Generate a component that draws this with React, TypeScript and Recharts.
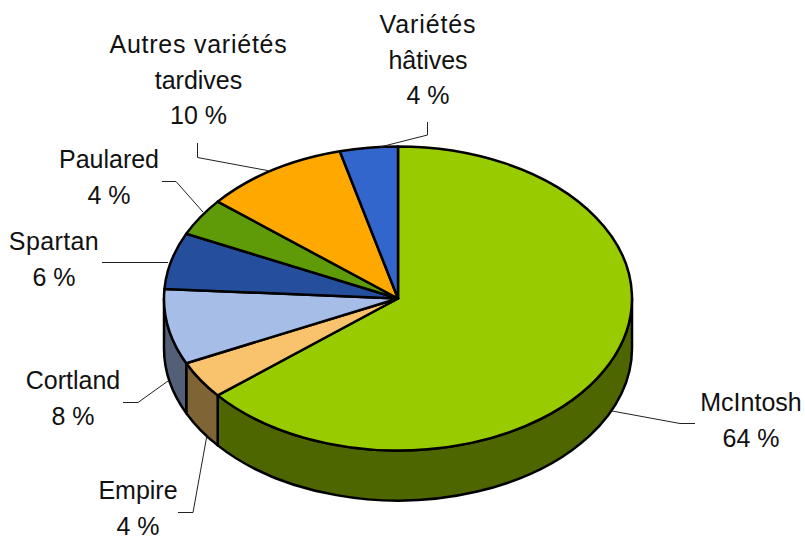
import { PieChart, Pie } from 'recharts';

const categories = ['McIntosh', 'Empire', 'Cortland', 'Spartan', 'Paulared', 'Autres variétés tardives', 'Variétés hâtives'];
const shares = [64, 4, 8, 6, 4, 10, 4];
const topColors = ['#99cc00', '#f8c36c', '#a6bde8', '#254e9c', '#5f9a08', '#ffa800', '#3366cc'];
const wallColors = ['#4d6600', '#7f6535', '#535f77', '#132750', '#304d04', '#805400', '#1a3366'];
const nameLines = [
  ['McIntosh'],
  ['Empire'],
  ['Cortland'],
  ['Spartan'],
  ['Paulared'],
  ['Autres variétés', 'tardives'],
  ['Variétés', 'hâtives'],
];

const data = categories.map((name, i) => ({ name, value: shares[i], fill: topColors[i], wall: wallColors[i] }));

// squash factor and wall height of the fake 3D disc
const TILT = 152 / 234;
const DEPTH = 50;
const LINE_H = 35.7;
const EDGE = 2.5;

// where each label sits (centre x, first baseline), its leader line, and tracking of the first line
const labelPlacement = [
  { x: 751, y: 411, spacing: 0, leader: '695,423.5 680,423.5 612,411' },
  { x: 138, y: 499, spacing: 0, leader: '178,512.5 193,512.5 207,435' },
  { x: 73, y: 389, spacing: 0, leader: '123,402.5 138,402.5 168,381' },
  { x: 54, y: 250, spacing: 0.4, leader: '102,262.5 168,262.5' },
  { x: 109, y: 168, spacing: 0, leader: '162,181.5 176,181.5 203,212' },
  { x: 198.5, y: 53, spacing: 0.75, leader: '197.5,143 197.5,157.5 270,171' },
  { x: 428, y: 33, spacing: 0.9, leader: '427.5,122 427.5,135 380,147' },
];

const pt = (cx: number, cy: number, r: number, deg: number) => {
  const a = (deg * Math.PI) / 180;
  return [cx + r * Math.cos(a), cy - r * TILT * Math.sin(a)];
};

function TopSlice(props: any) {
  const { cx, cy, outerRadius: r, startAngle, endAngle, fill } = props;
  const [x1, y1] = pt(cx, cy, r, startAngle);
  const [x2, y2] = pt(cx, cy, r, endAngle);
  const large = Math.abs(startAngle - endAngle) > 180 ? 1 : 0;
  const d = `M${cx},${cy}L${x1},${y1}A${r},${r * TILT} 0 ${large} 1 ${x2},${y2}Z`;
  return <path d={d} fill={fill} stroke="#000" strokeWidth={EDGE} strokeLinejoin="round" />;
}

function WallSlice(props: any) {
  const { cx, cy, outerRadius: r, startAngle, endAngle, payload } = props;
  // only the front half of the rim shows
  const from = Math.min(startAngle, 0);
  const to = Math.max(endAngle, -180);
  if (from <= to) return <g />;
  const [x1, y1] = pt(cx, cy, r, from);
  const [x2, y2] = pt(cx, cy, r, to);
  const ry = r * TILT;
  const d = `M${x1},${y1}A${r},${ry} 0 0 1 ${x2},${y2}L${x2},${y2 + DEPTH}A${r},${ry} 0 0 0 ${x1},${y1 + DEPTH}Z`;
  return <path d={d} fill={payload?.wall ?? props.wall} stroke="#000" strokeWidth={EDGE} strokeLinejoin="round" />;
}

function SliceLabel({ index }: any) {
  const place = labelPlacement[index];
  const lines = [...nameLines[index], `${shares[index]} %`];
  return (
    <g>
      <polyline points={place.leader} fill="none" stroke="#222" strokeWidth={1} />
      <text x={place.x} y={place.y} textAnchor="middle" fontFamily="Liberation Sans" fontSize={25} fill="#111">
        {lines.map((line, i) => (
          <tspan key={i} x={place.x} dy={i === 0 ? 0 : LINE_H} letterSpacing={i === 0 ? place.spacing : 0}>{line}</tspan>
        ))}
      </text>
    </g>
  );
}

export default function App() {
  return (
    <div style={{ position: 'absolute', left: 0, top: 0, width: 805, height: 537, background: '#fff' }}>
      <PieChart width={805} height={537} margin={{ top: 0, right: 0, bottom: 0, left: 0 }}>
        <Pie
          data={data}
          dataKey="value"
          cx={398}
          cy={298.5}
          outerRadius={234}
          startAngle={90}
          endAngle={-270}
          shape={WallSlice}
          isAnimationActive={false}
        />
        <Pie
          data={data}
          dataKey="value"
          cx={398}
          cy={298.5}
          outerRadius={234}
          startAngle={90}
          endAngle={-270}
          shape={TopSlice}
          label={SliceLabel}
          labelLine={false}
          isAnimationActive={false}
        />
      </PieChart>
    </div>
  );
}
